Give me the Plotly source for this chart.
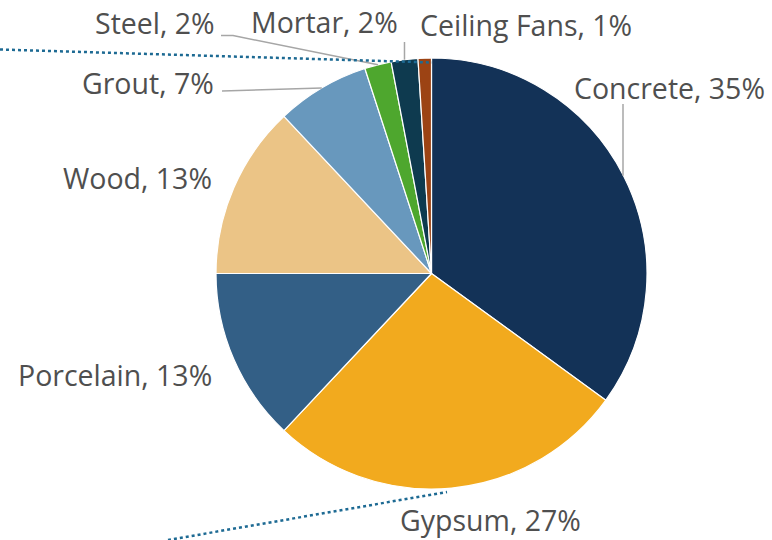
import math
import plotly.graph_objects as go

# Material share of the building, in percent (clockwise from 12 o'clock)
materials = ["Concrete", "Gypsum", "Porcelain", "Wood", "Grout", "Steel", "Mortar", "Ceiling Fans"]
shares = [35, 27, 13, 13, 7, 2, 2, 1]
colors = ["#133257", "#F2AA1E", "#335F86", "#EBC486", "#6898BD", "#4EA72E", "#0E3A4F", "#9C4314"]

W, H = 772, 540
FONT = "Open Sans"
TEXT_COLOR = "#4F4F4F"
LEADER_COLOR = "#A6A6A6"

# Pie placement in pixels
CX, CY, R = 431.5, 273.5, 215.5


def px(x):
    return x / W


def py(y):
    return 1 - y / H


fig = go.Figure(
    go.Pie(
        labels=materials,
        values=shares,
        sort=False,
        direction="clockwise",
        rotation=0,
        marker=dict(colors=colors, line=dict(color="white", width=1.2)),
        textinfo="none",
        hoverinfo="label+percent",
        domain=dict(x=[px(CX - R), px(CX + R)], y=[py(CY + R), py(CY - R)]),
        showlegend=False,
    )
)


def slice_anchor(i):
    """Point on the rim at the middle of slice i."""
    total = sum(shares)
    start = sum(shares[:i]) / total
    mid = (start + shares[i] / total / 2) * 2 * math.pi
    return CX + R * math.sin(mid), CY - R * math.cos(mid)


# Label placement: (x, y, xanchor) in pixels
label_pos = {
    "Concrete": (572, 88, "left"),
    "Gypsum": (398, 520, "left"),
    "Porcelain": (214, 375, "right"),
    "Wood": (214, 178, "right"),
    "Grout": (216, 83, "right"),
    "Steel": (217, 23, "right"),
    "Mortar": (400, 22, "right"),
    "Ceiling Fans": (418, 25, "left"),
}
# Leader-line start and elbow points (None = same x as the rim anchor)
leaders = {
    "Concrete": [(623, 104)],
    "Grout": [(222, 91)],
    "Steel": [(221, 35.5), (233, 35.5)],
    "Mortar": [(None, 42)],
}

annotations = []
for name, val in zip(materials, shares):
    x, y, xa = label_pos[name]
    annotations.append(
        dict(
            x=px(x), y=py(y), xref="paper", yref="paper",
            text=f"{name}, {val}%", showarrow=False,
            xanchor=xa, yanchor="middle",
            font=dict(family=FONT, size=28.5, color=TEXT_COLOR),
        )
    )

shapes = []
for name, pts in leaders.items():
    ax, ay = slice_anchor(materials.index(name))
    pts = [(ax if p[0] is None else p[0], p[1]) for p in pts]
    if name == "Concrete":
        ax = pts[0][0]
    path = pts + [(ax, ay)]
    d = "M " + " L ".join(f"{px(a)},{py(b)}" for a, b in path)
    shapes.append(
        dict(type="path", path=d, xref="paper", yref="paper",
             line=dict(color=LEADER_COLOR, width=1.5))
    )

# Dotted guide lines across the chart
for (x0, y0), (x1, y1) in [((0, 49.5), (432, 62.5)), ((168, 540), (447, 492))]:
    shapes.append(
        dict(type="line", x0=px(x0), y0=py(y0), x1=px(x1), y1=py(y1),
             xref="paper", yref="paper",
             line=dict(color="#1D6A93", width=2.5, dash="dot"))
    )

fig.update_layout(
    width=W, height=H,
    margin=dict(l=0, r=0, t=0, b=0),
    paper_bgcolor="white",
    plot_bgcolor="white",
    annotations=annotations,
    shapes=shapes,
)

fig.write_html("out.html")
